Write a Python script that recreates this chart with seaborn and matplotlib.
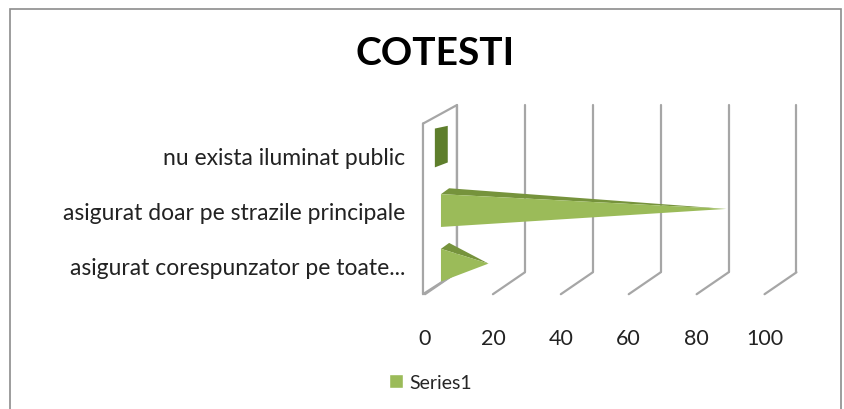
import matplotlib
matplotlib.use("Agg")
import matplotlib.pyplot as plt
import seaborn as sns
import pandas as pd
from matplotlib.patches import Polygon, Rectangle

# data
categories = ["nu exista iluminat public",
              "asigurat doar pe strazile principale",
              "asigurat corespunzator pe toate..."]
values = [2, 84, 14]
series_name = "Series1"
x_ticks = [0, 20, 40, 60, 80, 100]

df = pd.DataFrame({"cat": categories, "val": values})

sns.set_style("white")
plt.rcParams["font.family"] = ["Lato", "DejaVu Sans"]

fig = plt.figure(figsize=(8.44, 4.10), dpi=100)
# x: 0 sits at 425px, 3.4px per unit; y: 55px per category
ax = fig.add_axes([0.4915, 0.28, 0.4586, 0.476])

sns.barplot(data=df, x="val", y="cat", orient="h", color="#9BBB59",
            width=0.6, ax=ax)

d = 4.7  # half depth of the 3d look, in data units
light, dark = "#9BBB59", "#76933C"
for p in list(ax.patches):
    x0, y0 = p.get_x(), p.get_y()
    w, h = p.get_width(), p.get_height()
    p.remove()
    if w < 5:
        ax.add_patch(Polygon([(x0 + d - 1.8, y0 - 0.2), (x0 + w + d, y0 - 0.25),
                              (x0 + w + d, y0 + h * 0.7), (x0 + d - 1.8, y0 + h * 0.85)],
                             closed=True, facecolor="#5E7E2C", edgecolor="none", zorder=3))
        continue
    b = x0 + d
    tip = (b + w, y0 + h * 0.45)
    ax.add_patch(Polygon([(b, y0), (b + 2.4, y0 - h * 0.18), tip], closed=True,
                         facecolor=dark, edgecolor="none", zorder=3))
    ax.add_patch(Polygon([(b, y0), tip, (b, y0 + h)], closed=True,
                         facecolor=light, edgecolor="none", zorder=4))

ax.set_xlim(-3, 111)
ax.set_ylim(2.53, -1.04)
ax.set_xticks(x_ticks)
ax.set_xticklabels([str(t) for t in x_ticks], fontsize=15.5, color="#222222")
ax.tick_params(axis="x", length=0, pad=24)
ax.tick_params(axis="y", length=0, pad=7, labelsize=16.5, labelcolor="#222222")
ax.set_xlabel("")
ax.set_ylabel("")
for s in ax.spines.values():
    s.set_visible(False)

# back wall gridlines with a slanted floor stroke
top, floor, front = -0.93, 2.13, 2.53
for t in x_ticks:
    ax.plot([t + 2 * d, t + 2 * d], [top, floor], color="#A6A6A6", lw=1.6,
            zorder=1, clip_on=False)
    ax.plot([t + 2 * d, t], [floor, front], color="#A6A6A6", lw=1.6, zorder=1,
            clip_on=False)
# left wall outline
ax.plot([-0.6, 2 * d, 2 * d, -0.6, -0.6], [-0.59, top, floor, front, -0.59],
        color="#A6A6A6", lw=1.6, zorder=2, clip_on=False)

fig.text(0.515, 0.87, "COTESTI", ha="center", va="center", fontsize=28,
         fontweight="bold", color="black")

handle = Rectangle((0, 0), 1, 1, facecolor=light)
fig.legend([handle], [series_name], loc="center", bbox_to_anchor=(0.51, 0.065),
           frameon=False, fontsize=14, handlelength=0.7, handleheight=0.7,
           handletextpad=0.3)

# outer chart frame
fig.add_artist(Rectangle((0.012, -0.01), 0.984, 0.985, transform=fig.transFigure,
                         fill=False, edgecolor="#8C8C8C", lw=1.2))

fig.savefig("out.png", dpi=100)
